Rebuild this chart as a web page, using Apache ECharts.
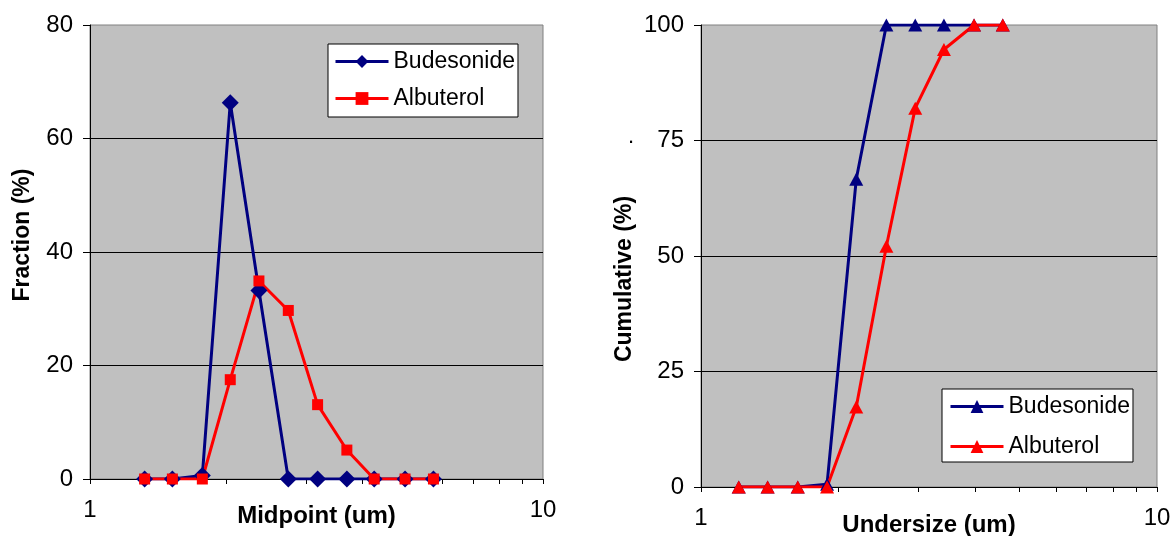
<!DOCTYPE html>
<html><head><meta charset="utf-8">
<script src="https://cdn.jsdelivr.net/npm/echarts@6/dist/echarts.min.js"></script>
<style>html,body{margin:0;padding:0;background:#fff}#c{width:1174px;height:536px}</style>
</head><body><div id="c"></div>
<script>
// ---- data ----
const seriesNames = ['Budesonide', 'Albuterol'];
const midpoints = [1.32, 1.52, 1.77, 2.04, 2.36, 2.74, 3.18, 3.69, 4.24, 4.96, 5.73];
const budesonideFraction = [0, 0, 0.6, 66.3, 33.2, 0, 0, 0, 0, 0, 0];
const albuterolFraction = [0, 0, 0, 17.5, 34.9, 29.7, 13.1, 5.1, 0, 0, 0];
const undersize = [1.21, 1.40, 1.63, 1.89, 2.19, 2.55, 2.95, 3.41, 3.97, 4.59];
const budesonideCumulative = [0, 0, 0, 0.6, 66.6, 100, 100, 100, 100, 100];
const albuterolCumulative = [0, 0, 0, 0, 17.3, 52.1, 82.0, 94.7, 100, 100];
const xLabelValues = [1, 10];
const xTickValues = [1, 2, 3, 4, 5, 6, 7, 8, 9, 10];
const fractionAxis = { min: 0, max: 80, interval: 20 };
const cumulativeAxis = { min: 0, max: 100, interval: 25 };

const pair = (xs, ys) => xs.map((x, i) => [x, ys[i]]);
const FONT = 'Liberation Sans, Arial, sans-serif';
const FS = 24;
const NAVY = '#000080', RED = '#ff0000';

function xAxis(gridIndex, name, nameGap) {
  return {
    type: 'log', logBase: 10, min: 1, max: 10, gridIndex,
    name, nameLocation: 'middle', nameGap, nameMoveOverlap: false,
    nameTextStyle: { fontFamily: FONT, fontSize: FS, fontWeight: 'bold', color: '#000' },
    axisLine: { show: true, onZero: false, lineStyle: { color: '#000', width: 1 } },
    axisTick: { show: true, inside: false, length: 5, customValues: xTickValues, lineStyle: { color: '#000' } },
    axisLabel: { show: true, margin: 19, customValues: xLabelValues, fontFamily: FONT, fontSize: FS, color: '#000',
      formatter: v => String(Math.round(v)) },
    splitLine: { show: false }, minorTick: { show: false }
  };
}
function yAxis(gridIndex, name, nameGap, ax, pad) {
  return {
    type: 'value', gridIndex, min: ax.min, max: ax.max, interval: ax.interval,
    name, nameLocation: 'middle', nameGap, nameMoveOverlap: false,
    nameTextStyle: { fontFamily: FONT, fontSize: 23, fontWeight: 'bold', color: '#000', padding: pad },
    axisLine: { show: true, lineStyle: { color: '#000', width: 1 } },
    axisTick: { show: true, inside: false, length: 7, lineStyle: { color: '#000' } },
    axisLabel: { margin: 17, fontFamily: FONT, fontSize: FS, color: '#000' },
    splitLine: { show: true, showMinLine: false, showMaxLine: false, lineStyle: { color: '#000', width: 1 } }
  };
}
function legend(names, left, top, gap, pad) {
  return {
    data: names, orient: 'vertical', left, top, itemGap: gap, padding: pad,
    itemWidth: 53, itemHeight: 16, backgroundColor: '#fff', borderColor: '#000', borderWidth: 1,
    borderRadius: 0, selectedMode: false,
    lineStyle: { width: 3 },
    formatter: n => n.split('|')[0],
    textStyle: { fontFamily: FONT, fontSize: 23, color: '#000' }
  };
}
function line(name, data, xi, color, symbol, size) {
  return {
    type: 'line', name, data, xAxisIndex: xi, yAxisIndex: xi,
    symbol, symbolSize: size, showAllSymbol: true, animation: false,
    lineStyle: { color, width: 3 }, itemStyle: { color, borderWidth: 0 }
  };
}

const chart = echarts.init(document.getElementById('c'), null, { renderer: 'canvas' });
chart.setOption({
  backgroundColor: '#fff',
  animation: false,
  grid: [
    { left: 90, top: 25, width: 453, height: 454, show: true, backgroundColor: '#c0c0c0', borderColor: '#808080', borderWidth: 1, outerBoundsMode: 'none', containLabel: false },
    { left: 701, top: 25, width: 456, height: 462, show: true, backgroundColor: '#c0c0c0', borderColor: '#808080', borderWidth: 1, outerBoundsMode: 'none', containLabel: false }
  ],
  xAxis: [ xAxis(0, 'Midpoint (um)', 25), xAxis(1, 'Undersize (um)', 26) ],
  yAxis: [ yAxis(0, 'Fraction (%)', 56, fractionAxis, [0, 0, 0, 34]), yAxis(1, 'Cumulative (%)', 65, cumulativeAxis, [0, 46, 0, 0]) ],
  legend: [
    legend(seriesNames, 328, 44, 14, [6, 3, 7, 6]),
    legend(seriesNames.map(n => n + '|cum'), 942, 389, 17, [6, 3, 4, 7])
  ],
  graphic: [
    { type: 'text', left: 628, top: 126, style: { text: '.', font: '22px ' + FONT, fill: '#000' } }
  ],
  series: [
    line(seriesNames[0], pair(midpoints, budesonideFraction), 0, NAVY, 'diamond', 17),
    line(seriesNames[1], pair(midpoints, albuterolFraction), 0, RED, 'rect', 11),
    line(seriesNames[0] + '|cum', pair(undersize, budesonideCumulative), 1, NAVY, 'triangle', [14, 13]),
    line(seriesNames[1] + '|cum', pair(undersize, albuterolCumulative), 1, RED, 'triangle', [14, 13])
  ]
});
</script>
</body></html>
